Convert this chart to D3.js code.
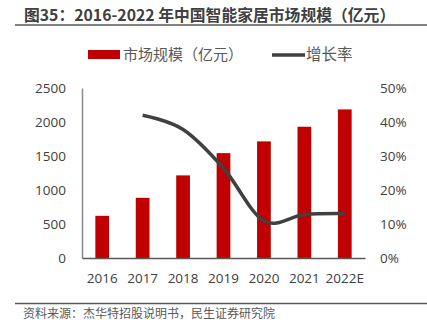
<!DOCTYPE html>
<html>
<head>
<meta charset="utf-8">
<script src="https://d3js.org/d3.v7.min.js"></script>
<style>
  body { margin: 0; background: #fff; }
  text { font-family: "Open Sans", "Noto Sans CJK SC", sans-serif; }
</style>
</head>
<body>
<script>
// smart home market size (100m yuan) and year-on-year growth (%)
const years = ["2016", "2017", "2018", "2019", "2020", "2021", "2022E"];
const marketSize = [620, 885, 1215, 1542, 1715, 1930, 2185];
const growthRate = [null, 42.0, 37.8, 26.4, 10.9, 12.8, 13.1];
const leftTicks = [0, 500, 1000, 1500, 2000, 2500];
const rightTicks = [0, 10, 20, 30, 40, 50];

const width = 427, height = 325;
const plot = {left: 82, right: 365, top: 88, bottom: 258};
const cjk = "'Noto Sans CJK SC', sans-serif";

const svg = d3.select("body").append("svg")
    .attr("width", width)
    .attr("height", height);

// title and rules
svg.append("text")
    .attr("x", 24).attr("y", 21)
    .style("font-family", cjk)
    .style("font-size", "15.8px")
    .style("font-weight", "bold")
    .attr("fill", "#404040")
    .text("图35：2016-2022 年中国智能家居市场规模（亿元）");
svg.append("line")
    .attr("x1", 15).attr("x2", width).attr("y1", 25).attr("y2", 25)
    .attr("stroke", "#595959").attr("stroke-width", 1.5);
svg.append("line")
    .attr("x1", 15).attr("x2", width).attr("y1", 303.5).attr("y2", 303.5)
    .attr("stroke", "#595959").attr("stroke-width", 1.5);
svg.append("text")
    .attr("x", 23).attr("y", 318)
    .style("font-family", cjk)
    .style("font-size", "12px")
    .attr("fill", "#595959")
    .text("资料来源：杰华特招股说明书，民生证券研究院");

// scales
let x = d3.scaleBand()
    .domain(years)
    .range([plot.left, plot.right])
    .paddingInner(0.66)
    .paddingOuter(0.33);
let yLeft = d3.scaleLinear()
    .domain([0, 2500])
    .range([plot.bottom, plot.top]);
let yRight = d3.scaleLinear()
    .domain([0, 50])
    .range([plot.bottom, plot.top]);

// bars
svg.append("g").selectAll("rect")
    .data(marketSize)
    .join("rect")
        .attr("x", (d, i) => x(years[i]))
        .attr("y", d => yLeft(d))
        .attr("width", x.bandwidth())
        .attr("height", d => plot.bottom - yLeft(d))
        .attr("fill", "#C00000");

// axes
let axisLeft = svg.append("g")
    .attr("transform", `translate(${plot.left},0)`)
    .call(d3.axisLeft(yLeft).tickValues(leftTicks).tickSize(0).tickPadding(16)
        .tickFormat(d3.format("d")));
let axisRight = svg.append("g")
    .attr("transform", `translate(${plot.right},0)`)
    .call(d3.axisRight(yRight).tickValues(rightTicks).tickSize(0).tickPadding(15)
        .tickFormat(d => d + "%"));
axisRight.select(".domain").remove();
axisLeft.select(".domain")
    .attr("stroke", "#898989").attr("stroke-width", 1.5);

let axisBottom = svg.append("g")
    .attr("transform", `translate(0,${plot.bottom})`)
    .call(d3.axisBottom(x).tickSize(0).tickPadding(15));
axisBottom.select(".domain")
    .attr("stroke", "#595959").attr("stroke-width", 1.5);

svg.selectAll(".tick text")
    .style("font-size", "13.5px")
    .attr("fill", "#404040");

// growth line
let line = d3.line()
    .defined(d => d != null)
    .x((d, i) => x(years[i]) + x.bandwidth() / 2)
    .y(d => yRight(d))
    .curve(d3.curveCardinal.tension(0));
svg.append("path")
    .datum(growthRate)
    .attr("d", (d) => line(d))
    .attr("fill", "none")
    .attr("stroke", "#404040")
    .attr("stroke-width", 3.5);

// legend
let legend = svg.append("g");
legend.append("rect")
    .attr("x", 88).attr("y", 50).attr("width", 32).attr("height", 9)
    .attr("fill", "#C00000");
legend.append("text")
    .attr("x", 123).attr("y", 60)
    .style("font-family", cjk).style("font-size", "15px")
    .attr("fill", "#595959")
    .text("市场规模（亿元）");
legend.append("line")
    .attr("x1", 272).attr("x2", 305).attr("y1", 55).attr("y2", 55)
    .attr("stroke", "#404040").attr("stroke-width", 3.5);
legend.append("text")
    .attr("x", 306).attr("y", 60)
    .style("font-family", cjk).style("font-size", "15.5px")
    .attr("fill", "#595959")
    .text("增长率");
</script>
</body>
</html>
